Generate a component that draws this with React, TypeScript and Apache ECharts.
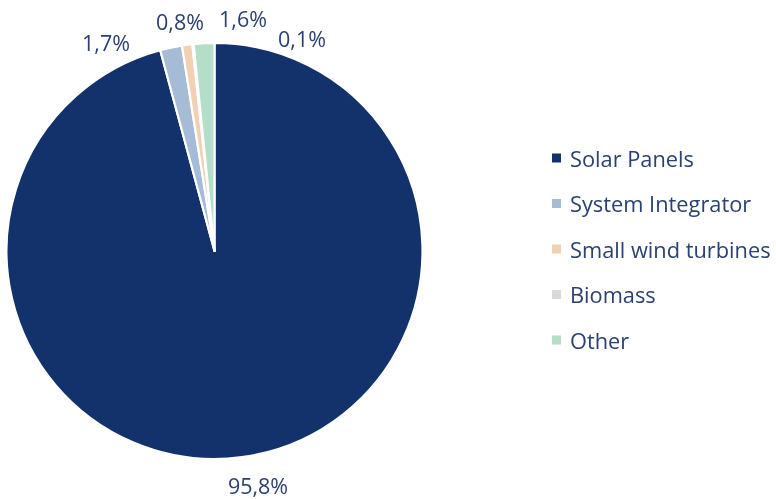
import React, { useEffect, useRef } from "react";
import * as echarts from "echarts";

const categories = ["Solar Panels", "System Integrator", "Small wind turbines", "Biomass", "Other"];
const values = [95.8, 1.7, 0.8, 0.1, 1.6];
const labels = ["95,8%", "1,7%", "0,8%", "0,1%", "1,6%"];
const colors = ["#13326b", "#a6bbd6", "#f1d0b3", "#dadada", "#b5dec9"];

const TEXT = "#2a4172";
const FONT = "Open Sans";

// label anchor positions (page coordinates)
const labelPos: [number, number][] = [
  [258, 485],
  [106, 42],
  [180, 21],
  [302, 38],
  [243, 18],
];

export default function App() {
  const ref = useRef<HTMLDivElement>(null);
  useEffect(() => {
    if (!ref.current) return;
    const chart = echarts.init(ref.current, null, { renderer: "svg" });
    chart.setOption({
      animation: false,
      legend: {
        orient: "vertical",
        left: 545,
        top: 142,
        itemWidth: 11,
        itemHeight: 11,
        itemGap: 23.5,
        icon: "rect",
        data: categories,
        textStyle: { color: TEXT, fontSize: 21.8, fontFamily: FONT, lineHeight: 22, padding: [0, 0, 0, 3] },
      },
      series: [
        {
          type: "pie",
          center: [214.5, 251],
          radius: 208,
          startAngle: 90,
          clockwise: true,
          avoidLabelOverlap: false,
          itemStyle: { borderColor: "#ffffff", borderWidth: 2.2 },
          label: {
            show: true,
            position: "outside",
            color: TEXT,
            fontSize: 21.5,
            fontFamily: FONT,
            formatter: (p: any) => labels[p.dataIndex],
          },
          labelLine: { show: false },
          labelLayout: (p: any) => ({
            x: labelPos[p.dataIndex][0],
            y: labelPos[p.dataIndex][1],
            align: "center",
            verticalAlign: "middle",
            hideOverlap: false,
          }),
          data: categories.map((name, i) => ({
            name,
            value: values[i],
            itemStyle: { color: colors[i] },
          })),
        },
      ],
    });
    return () => chart.dispose();
  }, []);
  return (
    <div
      ref={ref}
      style={{ position: "fixed", left: 0, top: 0, width: 776, height: 499 }}
    />
  );
}
